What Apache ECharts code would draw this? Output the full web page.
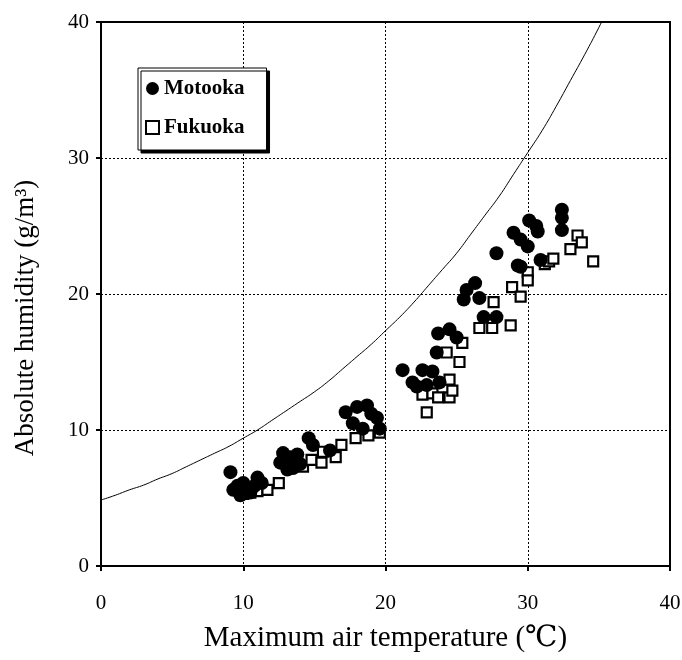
<!DOCTYPE html>
<html lang="en">
<head>
    <meta charset="UTF-8">
    <title>Absolute humidity</title>
    <script src="https://cdn.jsdelivr.net/npm/echarts@6/dist/echarts.min.js"></script>
    <style>body{margin:0;background:#fff;}</style>
</head>
<body>
<div id="main" style="width: 682px;height:660px;"></div>

<script type="text/javascript">
    // Motooka (filled circles) [temp, humidity]
    var motooka = [
        [9.1,6.9],[9.3,5.6],[9.6,5.9],[9.8,5.2],[10.0,6.1],[10.3,5.7],[10.5,5.4],[10.8,5.9],[11.0,6.5],[11.3,6.1],
        [12.6,7.6],[12.8,8.3],[13.1,7.1],[13.3,8.0],[13.5,7.2],[13.8,8.2],[14.0,7.5],[14.6,9.4],[14.9,8.9],[16.1,8.5],
        [17.2,11.3],[17.7,10.5],[18.0,11.7],[18.4,10.1],[18.7,11.8],[19.0,11.2],[19.4,10.9],[19.6,10.1],
        [21.2,14.4],[21.9,13.5],[22.2,13.2],[22.6,14.4],[22.9,13.3],[23.3,14.3],[23.6,15.7],[23.7,17.1],[23.8,13.5],[24.5,17.4],[25.0,16.8],
        [25.5,19.6],[25.7,20.3],[26.3,20.8],[26.6,19.7],[26.9,18.3],[27.8,18.3],[27.8,23.0],
        [29.0,24.5],[29.3,22.1],[29.5,24.0],[29.5,22.0],[30.0,23.5],[30.1,25.4],[30.6,25.0],[30.7,24.6],[30.9,22.5],
        [32.4,26.2],[32.4,25.6],[32.4,24.7]
    ];
    // Fukuoka (open squares)
    var fukuoka = [
        [10.0,5.3],[10.5,5.4],[11.0,5.5],[11.7,5.6],[12.5,6.1],
        [13.8,7.4],[14.2,7.3],[14.8,7.8],[15.5,7.6],[15.6,8.4],[16.5,8.0],[16.9,8.9],[17.9,9.4],[18.8,9.6],[19.6,9.8],
        [22.6,12.6],[22.9,11.3],[23.3,12.7],[23.7,12.4],[24.3,15.7],[24.5,13.7],[24.5,12.4],[24.7,12.9],[25.2,15.0],[25.4,16.4],
        [26.6,17.5],[27.5,17.5],[27.6,19.4],[28.8,17.7],[28.9,20.5],[29.5,19.8],[30.0,21.6],[30.0,21.0],
        [31.2,22.2],[31.5,22.4],[31.8,22.6],[33.0,23.3],[33.5,24.3],[33.8,23.8],[34.6,22.4]
    ];
    // saturation curve, read at 1 degree steps
    var curveTemp = [0,1,2,3,4,5,6,7,8,9,10,11,12,13,14,15,16,17,18,19,20,21,22,23,24,25,26,27,28,29,30,31,32,33,34,35,36];
    var curveHum = [4.85,5.2,5.6,5.95,6.4,6.8,7.3,7.8,8.3,8.8,9.4,10.0,10.7,11.4,12.1,12.8,13.6,14.5,15.4,16.3,17.3,18.3,19.4,20.6,21.8,23.0,24.4,25.8,27.2,28.8,30.4,32.0,33.8,35.7,37.6,39.6,41.7];
    var xTicks = [0, 10, 20, 30, 40];
    var yTicks = [0, 10, 20, 30, 40];

    var curve = [];
    for (var i = 0; i < curveTemp.length; i++) {
        curve.push([curveTemp[i], curveHum[i]]);
    }

    var myChart = echarts.init(document.getElementById('main'));
    var font = '"Liberation Serif", "DejaVu Serif", serif';

    var option = {
        animation: false,
        backgroundColor: '#fff',
        grid: {
            left: 101,
            right: 12,
            top: 22,
            bottom: 94,
            outerBoundsMode: 'none',
            show: true,
            borderColor: '#000',
            borderWidth: 2
        },
        legend: {
            orient: 'vertical',
            left: 138,
            top: 68,
            padding: [10, 22, 12, 7],
            itemGap: 18,
            itemWidth: 13,
            itemHeight: 13,
            backgroundColor: '#fff',
            borderColor: '#000',
            borderWidth: 1,
            shadowColor: '#000',
            shadowBlur: 0,
            shadowOffsetX: 3,
            shadowOffsetY: 3,
            textStyle: {fontFamily: font, fontSize: 21, fontWeight: 'bold', color: '#000'},
            data: ['Motooka', 'Fukuoka']
        },
        xAxis: {
            type: 'value',
            min: xTicks[0],
            max: xTicks[xTicks.length - 1],
            interval: 10,
            name: 'Maximum air temperature (\u2103)',
            nameLocation: 'middle',
            nameGap: 58,
            nameTextStyle: {fontFamily: font, fontSize: 29, color: '#000'},
            axisLine: {lineStyle: {color: '#000', width: 2}},
            axisTick: {show: true, length: 5, lineStyle: {color: '#000', width: 2}},
            axisLabel: {fontFamily: font, fontSize: 21, color: '#000', margin: 27},
            splitLine: {lineStyle: {color: '#000', type: [2, 2], width: 1}}
        },
        yAxis: {
            type: 'value',
            min: yTicks[0],
            max: yTicks[yTicks.length - 1],
            interval: 10,
            name: 'Absolute humidity (g/m\u00b3)',
            nameLocation: 'middle',
            nameGap: 62,
            nameTextStyle: {fontFamily: font, fontSize: 27, color: '#000', padding: [0, 48, 0, 0]},
            axisLine: {lineStyle: {color: '#000', width: 2}},
            axisTick: {show: true, length: 5, lineStyle: {color: '#000', width: 2}},
            axisLabel: {fontFamily: font, fontSize: 21, color: '#000', margin: 12},
            splitLine: {lineStyle: {color: '#000', type: [2, 2], width: 1}}
        },
        series: [
            {
                name: 'curve',
                type: 'line',
                data: curve,
                smooth: true,
                symbol: 'none',
                clip: true,
                lineStyle: {color: '#000', width: 1},
                z: 1
            },
            {
                name: 'Fukuoka',
                type: 'scatter',
                data: fukuoka,
                symbol: 'rect',
                symbolSize: 10,
                itemStyle: {color: '#fff', borderColor: '#000', borderWidth: 2.2, opacity: 1},
                z: 2
            },
            {
                name: 'Motooka',
                type: 'scatter',
                data: motooka,
                symbol: 'circle',
                symbolSize: 14,
                itemStyle: {color: '#000', opacity: 1},
                z: 3
            }
        ]
    };

    myChart.setOption(option);
</script>
</body>
</html>
